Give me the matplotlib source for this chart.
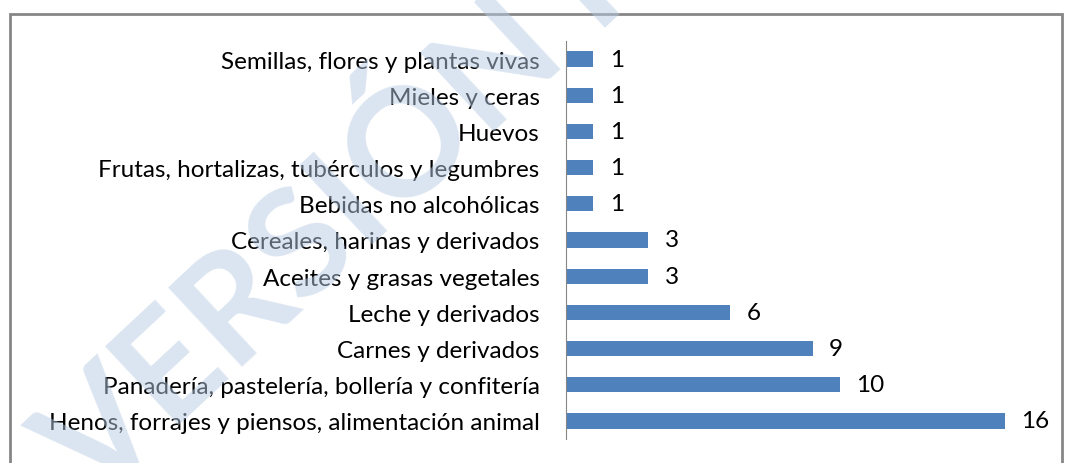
import matplotlib.pyplot as plt
from matplotlib.patches import Rectangle

# Data
categorias = [
    "Henos, forrajes y piensos, alimentación animal",
    "Panadería, pastelería, bollería y confitería",
    "Carnes y derivados",
    "Leche y derivados",
    "Aceites y grasas vegetales",
    "Cereales, harinas y derivados",
    "Bebidas no alcohólicas",
    "Frutas, hortalizas, tubérculos y legumbres",
    "Huevos",
    "Mieles y ceras",
    "Semillas, flores y plantas vivas",
]
valores = [16, 10, 9, 6, 3, 3, 1, 1, 1, 1, 1]

plt.rcParams['font.family'] = ['Lato', 'DejaVu Sans']

fig = plt.figure(figsize=(10.72, 4.64), dpi=100)
W, H = 1072, 464

# outer frame of the chart area
fig.patches.append(Rectangle((10 / W, -0.1), 1052 / W, (H - 15) / H + 0.1,
                             transform=fig.transFigure, fill=False,
                             edgecolor='#868686', linewidth=2))

ax = fig.add_axes([566 / W, 24 / H, 484 / W, 398 / H])
ax.patch.set_alpha(0)
ypos = range(len(categorias))
ax.barh(ypos, valores, height=0.42, color='#4f81bd', zorder=2)
ax.set_xlim(0, 17.66)
ax.set_ylim(-0.5, 10.5)
ax.set_yticks(list(ypos))
ax.set_yticklabels(categorias, fontsize=17.5)
ax.tick_params(axis='y', length=0, pad=19)
ax.set_xticks([])
for s in ['top', 'right', 'bottom']:
    ax.spines[s].set_visible(False)
ax.spines['left'].set_color('#868686')

for y, v in zip(ypos, valores):
    ax.text(v + 0.6, y, str(v), va='center', ha='left', fontsize=17.5, color='black')

# watermark, semi transparent on top
fig.text(95 / W, -40 / H, "VERSIÓN PRELIMINAR", fontsize=108, fontweight='bold',
         color='#b8cce4', alpha=0.5, rotation=43, rotation_mode='anchor',
         ha='left', va='baseline', zorder=10)

fig.savefig('out.png', dpi=100)
